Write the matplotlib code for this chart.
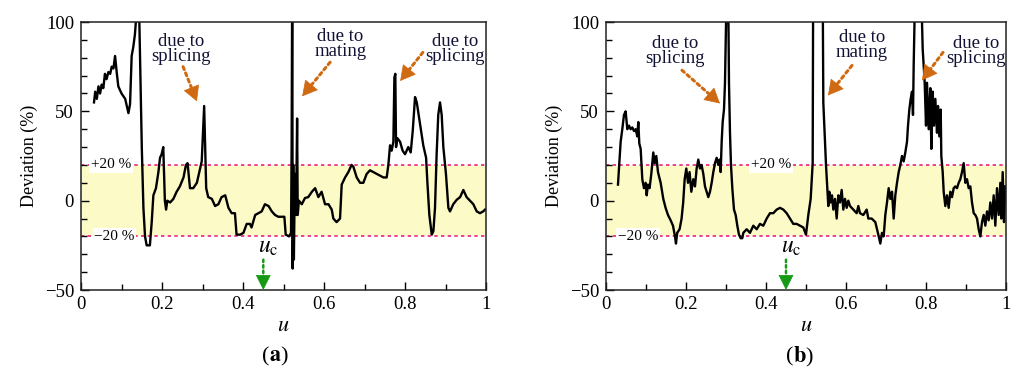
import matplotlib
matplotlib.use('Agg')
import matplotlib.pyplot as plt
from matplotlib.ticker import MultipleLocator

# ---- data ----
u_a = [0.032, 0.035, 0.039, 0.043, 0.047, 0.051, 0.055, 0.059, 0.063, 0.0675, 0.072, 0.0757,
       0.080, 0.084, 0.088, 0.092, 0.100, 0.109, 0.117, 0.121, 0.125, 0.129, 0.133, 0.137,
       0.140, 0.144, 0.150, 0.154, 0.158, 0.162, 0.170, 0.1745, 0.1786, 0.185, 0.191, 0.195,
       0.199, 0.203, 0.207, 0.210, 0.213, 0.220, 0.228, 0.236, 0.244, 0.253, 0.259, 0.263,
       0.269, 0.277, 0.286, 0.292, 0.298, 0.304, 0.307, 0.309, 0.314, 0.323, 0.331, 0.339,
       0.347, 0.356, 0.364, 0.372, 0.380, 0.384, 0.393, 0.401, 0.409, 0.417, 0.421, 0.430,
       0.438, 0.446, 0.454, 0.463, 0.471, 0.479, 0.487, 0.4955, 0.502, 0.5054, 0.5136, 0.5185,
       0.520, 0.5215, 0.5225, 0.524, 0.5255, 0.528, 0.531, 0.5335, 0.535, 0.538, 0.545, 0.553,
       0.561, 0.570, 0.578, 0.586, 0.594, 0.6025, 0.611, 0.619, 0.623, 0.631, 0.6395, 0.6436,
       0.652, 0.660, 0.668, 0.6724, 0.6807, 0.689, 0.697, 0.7053, 0.7136, 0.7218, 0.730, 0.7383,
       0.7465, 0.7547, 0.7588, 0.763, 0.767, 0.7712, 0.7737, 0.776, 0.7778, 0.781, 0.7877, 0.794,
       0.800, 0.808, 0.814, 0.819, 0.8247, 0.829, 0.837, 0.845, 0.852, 0.855, 0.860, 0.866,
       0.870, 0.874, 0.878, 0.882, 0.8864, 0.8905, 0.8946, 0.901, 0.907, 0.911, 0.919, 0.9276,
       0.936, 0.944, 0.952, 0.9605, 0.9687, 0.977, 0.985, 0.993, 0.9975]
dev_a = [55, 61, 57, 64, 60, 65, 63, 71, 68, 72, 71, 75,
         74, 81, 72, 64, 60, 57, 49, 54, 81, 86, 93, 105,
         120, 100, 30, -4, -20, -25, -25, -12, 3, 7, 16, 24,
         26, 30, 0, -5, 0, -1, 1, 5, 8, 13, 20, 21,
         7, 7, 10, 16, 22, 53, 24, 7, 2, 1, -3, -2,
         2, 3, -4, -7, -7, -19, -19, -18, -13, -13, -15, -8,
         -7, -6, -2, -3, -6, -8, -9, -9, -9, -19, -20, -18,
         30, 130, -38, 20, -33, 15, -8, 46, -8, 0, -2, 1.5,
         2, 5, 7, 2, 5, -2, -2, -5, -10, -12, -10, 9,
         13, 16, 20, 19, 13, 10, 10, 15, 17, 16, 15, 14,
         13, 13, 20, 31, 28, 33, 69, 71, 30, 35, 33, 28,
         26, 30, 27, 39, 58, 55, 43, 31, 24, 11, -8, -19,
         -17, -4, 26, 48, 55, 48, 30, 15, -4, -6, -2, 0.5,
         2, 6, 2, 0, -2, -6, -7, -6, -5]

u_b = [0.030, 0.0325, 0.0367, 0.0408, 0.045, 0.0492, 0.0533, 0.0575, 0.0617, 0.0658, 0.070,
       0.0742, 0.0783, 0.0808, 0.0833, 0.0867, 0.0908, 0.095, 0.0992, 0.1017, 0.105, 0.109,
       0.1133, 0.1183, 0.1217, 0.1258, 0.130, 0.1367, 0.1433, 0.149, 0.155, 0.1617, 0.1675,
       0.1725, 0.175, 0.178, 0.184, 0.189, 0.193, 0.1967, 0.2008, 0.205, 0.209, 0.2133, 0.2183,
       0.2225, 0.2267, 0.2308, 0.235, 0.239, 0.2433, 0.2475, 0.2517, 0.2558, 0.26, 0.2642,
       0.2683, 0.2725, 0.2767, 0.2808, 0.2842, 0.2867, 0.2892, 0.2917, 0.295, 0.2975, 0.300,
       0.3025, 0.305, 0.3075, 0.310, 0.3125, 0.3158, 0.32, 0.3242, 0.3283, 0.3325, 0.3367,
       0.3408, 0.3433, 0.3517, 0.36, 0.3683, 0.3767, 0.385, 0.3933, 0.4017, 0.41, 0.4183,
       0.4267, 0.435, 0.4433, 0.4517, 0.46, 0.4683, 0.4767, 0.485, 0.4933, 0.50, 0.5058,
       0.5117, 0.5167, 0.5183, 0.53, 0.541, 0.5433, 0.5475, 0.55, 0.5533, 0.5558, 0.5583,
       0.5617, 0.565, 0.5683, 0.5725, 0.5767, 0.5808, 0.585, 0.5892, 0.5933, 0.5975, 0.6017,
       0.6058, 0.61, 0.6183, 0.6267, 0.6308, 0.635, 0.6433, 0.6517, 0.6558, 0.6642, 0.6733,
       0.6808, 0.6858, 0.69, 0.6942, 0.6983, 0.7025, 0.7067, 0.7108, 0.715, 0.7192, 0.7233,
       0.7275, 0.7317, 0.7358, 0.74, 0.7442, 0.7483, 0.7525, 0.755, 0.7583, 0.7617, 0.765,
       0.7675, 0.7692, 0.7717, 0.778, 0.785, 0.79, 0.7917, 0.7942, 0.7967, 0.80, 0.8025,
       0.8067, 0.8108, 0.8133, 0.8167, 0.82, 0.8233, 0.8275, 0.83, 0.8333, 0.8367, 0.8383,
       0.8417, 0.8442, 0.8483, 0.8525, 0.8567, 0.8608, 0.865, 0.8692, 0.8733, 0.8775, 0.8817,
       0.8858, 0.89, 0.8942, 0.8983, 0.9025, 0.9067, 0.9108, 0.915, 0.9192, 0.9233, 0.9275,
       0.9317, 0.9358, 0.94, 0.9442, 0.9483, 0.9525, 0.9567, 0.9608, 0.965, 0.9692, 0.9733,
       0.9775, 0.9817, 0.9858, 0.9883, 0.9917, 0.995, 0.9983]
dev_b = [9, 18, 33, 40, 48, 50, 40, 42, 40, 41, 39,
         40, 36, 44, 32, 29, 12, 7, 10, 3, 9, 7,
         15, 27, 21, 25, 16, 10, 1, -4, -8, -11, -14,
         -20, -24, -18, -16, -10, -1, 12, 18, 10, 16, 5, 12,
         8, 18, 23, 18, 20, 15, 8, 5, 2, 5, 10,
         16, 21, 24, 20, 23, 16, 33, 44, 51, 66, 98,
         130, 130, 66, 38, 20, 7, -5, -8, -14, -19, -21,
         -21, -18, -16, -18, -14, -16, -13, -14, -10, -7, -7,
         -5, -4, -5, -7, -10, -13, -13, -14, -15, -19, -8,
         1, 21, 150, 300, 150, 55, 33, 20, 7, -3, 5,
         -1, 3, -5, 1, -10, 3, -1, 6, -5, 1, -4,
         0, -3, -5, -7, -3, -7, -8, -5, -10, -10, -12,
         -19, -24, -18, -20, -8, -1, 7, 1, 5, -10, 3,
         10, 16, 20, 25, 22, 27, 33, 42, 51, 57, 61,
         48, 76, 105, 130, 130, 100, 85, 76, 66, 42, 66,
         40, 63, 29, 61, 42, 57, 38, 53, 36, 51, 25,
         16, 5, -3, 3, -4, 5, 2, 7, 8, 7, 10,
         12, 16, 21, 10, 12, 7, 8, -1, -7, -8, -10,
         -16, -20, -12, -8, -14, -6, -11, -1, -10, 3, -14,
         7, -8, 10, -10, 16, -12, 8]

u_c = 0.45
band = 20
x_ticks = [0, 0.2, 0.4, 0.6, 0.8, 1]
x_ticklabels = ['0', '0.2', '0.4', '0.6', '0.8', '1']
y_ticks = [-50, 0, 50, 100]

plt.rcParams['font.family'] = ['Liberation Serif', 'DejaVu Serif']
plt.rcParams['mathtext.fontset'] = 'stix'
plt.rcParams['axes.unicode_minus'] = True

ORANGE = '#d06a12'
GREEN = '#169a16'
PINK = '#ec1c84'
YELLOW = '#fcfac6'

fig = plt.figure(figsize=(10.13, 3.83), dpi=100)
ax_a = fig.add_axes([0.0800, 0.2428, 0.3998, 0.6997])
ax_b = fig.add_axes([0.5982, 0.2428, 0.3949, 0.6997])


def setup(ax):
    ax.set_xlim(0, 1)
    ax.set_ylim(-50, 100)
    ax.axhspan(-band, band, color=YELLOW, zorder=0, lw=0)
    for yv in (band, -band):
        ax.axhline(yv, color=PINK, ls=(0, (2, 2)), lw=1.2, zorder=1)
    ax.set_xticks(x_ticks)
    ax.set_xticklabels(x_ticklabels)
    ax.set_yticks(y_ticks)
    ax.xaxis.set_minor_locator(MultipleLocator(0.1))
    ax.yaxis.set_minor_locator(MultipleLocator(10))
    ax.tick_params(which='both', direction='in', top=False, right=False,
                   labelsize=13.5, width=1.0)
    ax.tick_params(which='major', length=6)
    ax.tick_params(which='minor', length=4)
    ax.tick_params(axis='x', pad=4)
    ax.tick_params(axis='y', pad=5)
    for s in ax.spines.values():
        s.set_linewidth(1.1)
        s.set_color('#222222')
    ax.set_xlabel('$u$', fontsize=16, labelpad=3)
    ax.set_ylabel('Deviation (%)', fontsize=13, labelpad=5)


def band_label(ax, x, y, txt):
    ax.text(x, y, txt, ha='center', va='center', fontsize=11, zorder=3,
            bbox=dict(boxstyle='square,pad=0.1', fc='white', ec='none'))


def dotted_arrow(ax, tip, tail, color, lw, hl, hw):
    # dotted shaft
    ax.annotate('', xy=tip, xytext=tail, zorder=5,
                arrowprops=dict(arrowstyle='-', ls=(0, (1, 1.2)), lw=lw,
                                color=color, shrinkA=0, shrinkB=6))
    # solid head
    mid = (tail[0] + 0.7 * (tip[0] - tail[0]), tail[1] + 0.7 * (tip[1] - tail[1]))
    ax.annotate('', xy=tip, xytext=mid, zorder=5,
                arrowprops=dict(arrowstyle=f'-|>,head_length={hl},head_width={hw}',
                                lw=0.5, color=color, shrinkA=0, shrinkB=0))


def note(ax, txt, tx, ty, xy, xytext):
    ax.text(tx, ty, txt, ha='center', va='center', fontsize=13.5,
            linespacing=0.85, color='#111133', zorder=5)
    dotted_arrow(ax, xy, xytext, ORANGE, 2.2, 1.0, 0.55)


def uc_mark(ax, x):
    ax.text(x + 0.012, -26, r'$u_{\mathrm{c}}$', ha='center', va='center', fontsize=17)
    dotted_arrow(ax, (x, -50), (x, -33), GREEN, 1.8, 1.0, 0.5)


# ---- panel (a) ----
setup(ax_a)
ax_a.plot(u_a, dev_a, color='black', lw=1.7, zorder=2)
band_label(ax_a, 0.074, band, '+20 %')
band_label(ax_a, 0.083, -band, '\u221220 %')
note(ax_a, 'due to\nsplicing', 0.247, 85, (0.286, 55.6), (0.252, 75))
note(ax_a, 'due to\nmating', 0.64, 87.5, (0.546, 58.4), (0.615, 77.5))
note(ax_a, 'due to\nsplicing', 0.923, 85, (0.788, 67), (0.844, 83))
uc_mark(ax_a, u_c)

# ---- panel (b) ----
setup(ax_b)
ax_b.plot(u_b, dev_b, color='black', lw=1.7, zorder=2)
band_label(ax_b, 0.4125, band, '+20 %')
band_label(ax_b, 0.08, -band, '\u221220 %')
note(ax_b, 'due to\nsplicing', 0.1725, 84, (0.285, 54.4), (0.19, 73))
note(ax_b, 'due to\nmating', 0.64, 87, (0.555, 58.9), (0.615, 75.7))
note(ax_b, 'due to\nsplicing', 0.925, 84, (0.79, 67.3), (0.8425, 83))
uc_mark(ax_b, u_c)

fig.text(0.2655, 0.068, '(', ha='right', va='center', fontsize=16)
fig.text(0.2655, 0.068, r'$\mathbf{a}$)', ha='left', va='center', fontsize=16)
fig.text(0.783, 0.068, '(', ha='right', va='center', fontsize=16)
fig.text(0.783, 0.068, r'$\mathbf{b}$)', ha='left', va='center', fontsize=16)

fig.savefig('out.png', dpi=100)
